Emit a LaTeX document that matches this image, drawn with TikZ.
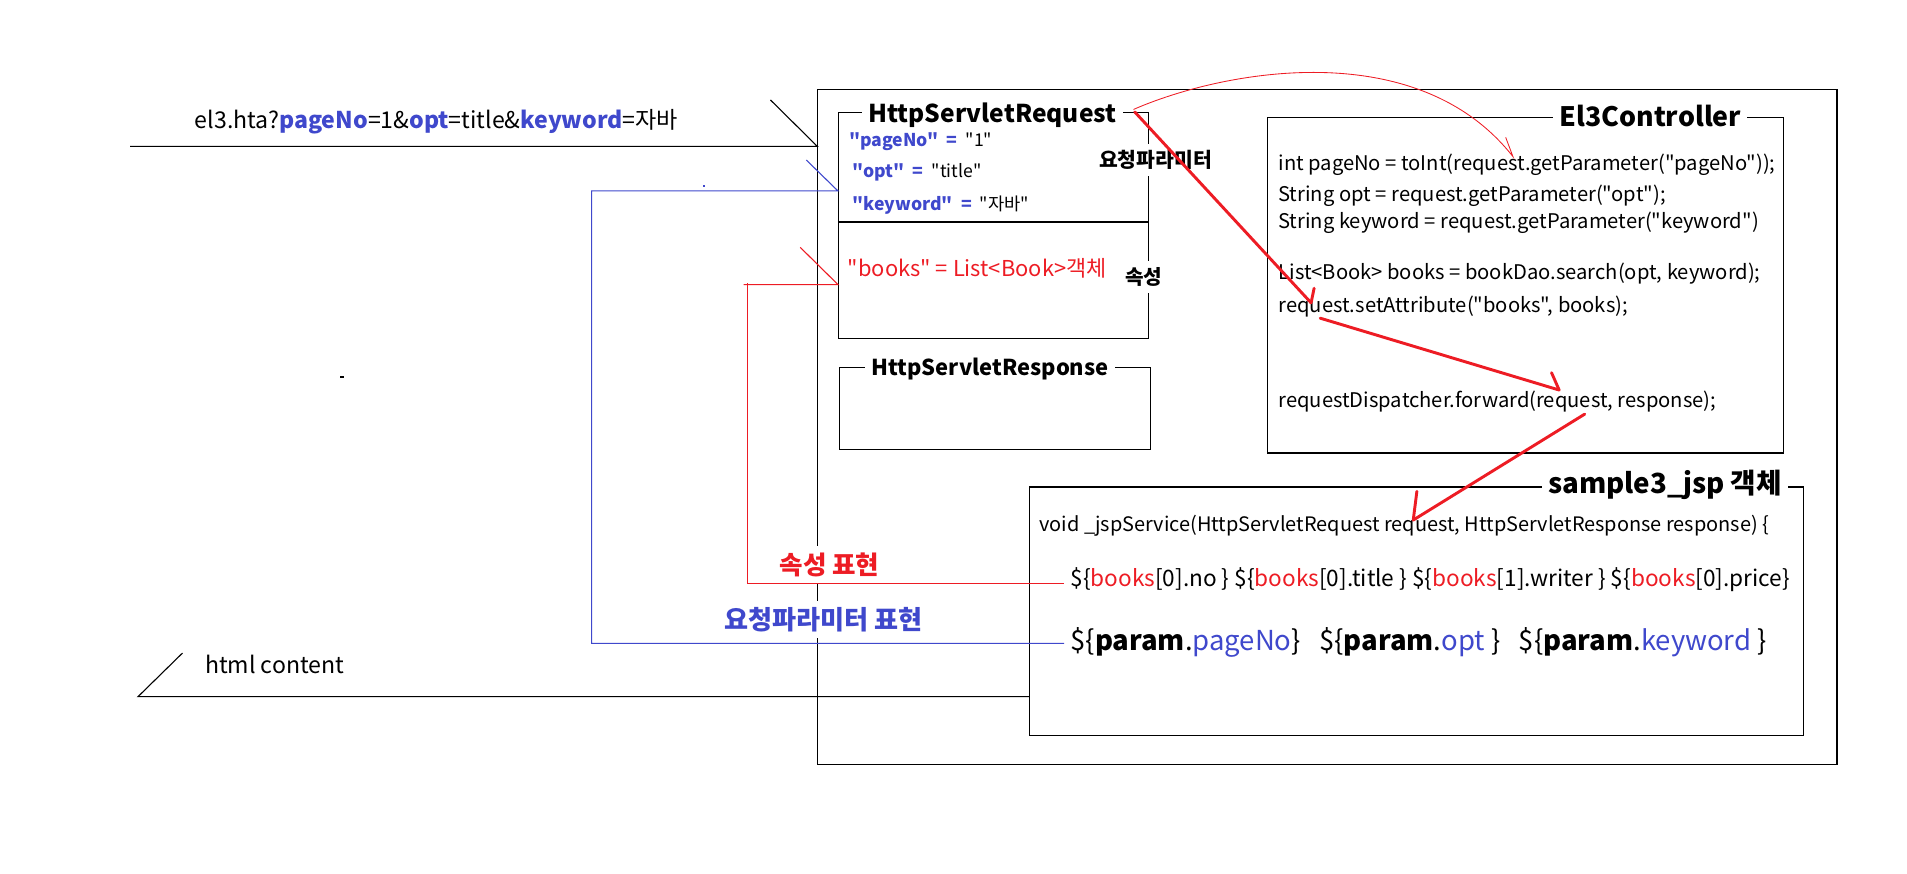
\documentclass[tikz,border=0pt]{standalone}
\usepackage{fontspec}
\setmainfont{Noto Sans CJK KR}[Ligatures=TeXOff]
\definecolor{pblue}{HTML}{3F48CC}
\definecolor{pred}{HTML}{ED1C24}
\newcommand\fsz[1]{\fontsize{#1}{#1}\selectfont}

\begin{document}
\begin{tikzpicture}[x=1pt,y=-1pt,
  frame/.style={draw=black, line width=0.9pt, inner sep=0pt, anchor=north west},
  rule/.style={draw=black, line width=0.9pt},
  bline/.style={draw=pblue, line width=0.9pt},
  rline/.style={draw=pred, line width=0.9pt},
  thinred/.style={draw=pred, line width=0.7pt},
  redarrow/.style={draw=pred, line width=2.4pt, line cap=round, line join=round},
  boxtitle/.style={fill=white, inner xsep=5pt, inner ysep=3pt, anchor=base, font=\bfseries},
  tag/.style={fill=white, inner xsep=1pt, inner ysep=5pt, anchor=base, font=\bfseries},
  txt/.style={anchor=base west, inner sep=0pt}]
\useasboundingbox (0,0) rectangle (1568,718);

% containers
\node[frame, minimum width=838pt, minimum height=555pt] (outer) at (672,73) {};
\node[frame, minimum width=254.6pt, minimum height=186.2pt] (req) at (689,91.8) {};
\node[frame, minimum width=255.6pt, minimum height=67pt] (resp) at (690,302) {};
\node[frame, minimum width=424pt, minimum height=276pt] (ctrl) at (1042,96) {};
\node[frame, minimum width=636.3pt, minimum height=204.4pt] (jsp) at (846,400) {};
\coordinate (divl) at (689,182.5);
\coordinate (divr) at (943.6,182.5);
\draw[rule] (divl) -- (divr);

% box titles
\node[boxtitle] (reqt) at (816,101) {\fsz{20.2}HttpServletRequest};
\node[boxtitle] (respt) at (814,309) {\fsz{18}HttpServletResponse};
\node[boxtitle] (ctrlt) at (1357,104) {\fsz{22}El3Controller};
\node[boxtitle] (jspt) at (1369,405.7) {\fsz{22.8}sample3\_jsp 객체};

% side tags on the request box
\node[tag] (ptag) at (950,138) {\fsz{16.8}요청파라미터};
\node[tag] (atag) at (940.5,234) {\fsz{16.6}속성};

% request contents
\node[txt] (pg) at (698,120.6) {\fsz{14.5}\textcolor{pblue}{\bfseries "pageNo"\ \ =\ \ }"1"};
\node[txt] (op) at (701,146) {\fsz{14.5}\textcolor{pblue}{\bfseries "opt"\ \ =\ \ }"title"};
\node[txt] (kw) at (701,172.7) {\fsz{14.5}\textcolor{pblue}{\bfseries "keyword"\ \ =\ \ }"자바"};
\node[txt, text=pred] (bk) at (697,227.5) {\fsz{18}"books"\ = List<Book>객체};

% controller code
\node[txt] (c1) at (1051,140) {\fsz{16.6}int pageNo = toInt(request.getParameter("pageNo"));};
\node[txt] (c2) at (1051,165.8) {\fsz{16.6}String opt = request.getParameter("opt");};
\node[txt] (c3) at (1051,187.7) {\fsz{16.6}String keyword = request.getParameter("keyword")};
\node[txt] (c4) at (1051,230) {\fsz{16.6}List<Book> books = bookDao.search(opt, keyword);};
\node[txt] (c5) at (1051,256.8) {\fsz{16.6}request.setAttribute("books", books);};
\node[txt] (c6) at (1051,335) {\fsz{16.6}requestDispatcher.forward(request, response);};

% jsp contents
\node[txt] (j1) at (854.5,437) {\fsz{16.4}void \_jspService(HttpServletRequest request, HttpServletResponse response) \{};
\node[txt] (j2) at (880,482) {\fsz{18.6}\$\{\textcolor{pred}{books}[0].no \} \$\{\textcolor{pred}{books}[0].title \} \$\{\textcolor{pred}{books}[1].writer \} \$\{\textcolor{pred}{books}[0].price\}};
\node[txt] (j3) at (880,534.5) {\fsz{22.6}\$\{\textbf{param}.\textcolor{pblue}{pageNo}\}\ \ \ \$\{\textbf{param}.\textcolor{pblue}{opt} \}\ \ \ \$\{\textbf{param}.\textcolor{pblue}{keyword} \}};

% outside texts
\node[txt] (url) at (160,105.5) {\fsz{19}el3.hta?\textcolor{pblue}{\bfseries pageNo}=1\&\textcolor{pblue}{\bfseries opt}=title\&\textcolor{pblue}{\bfseries keyword}=자바};
\node[txt] (html) at (168.4,553.6) {\fsz{19}html content};
\node[tag, text=pred] (attrx) at (682,472) {\fsz{21}속성 표현};
\node[tag, text=pblue] (parx) at (677,517.5) {\fsz{21.5}요청파라미터 표현};

% incoming request line and outgoing html line
\coordinate (inl) at (107,120.3);
\coordinate (inr) at (672,120.3);
\coordinate (inq) at (633.5,82.2);
\draw[rule] (inl) -- (inr) -- (inq);
\coordinate (outl) at (113.5,572.8);
\coordinate (outr) at (846,572.8);
\coordinate (outq) at (150,537);
\draw[rule] (outr) -- (outl) -- (outq);

% parameter expression link
\coordinate (bq) at (663,131.6);
\coordinate (bp) at (689,157);
\coordinate (bl) at (486.5,157);
\coordinate (bd) at (486.5,529);
\coordinate (be) at (875,529);
\draw[bline] (bq) -- (bp) -- (bl) -- (bd) -- (be);
\fill[pblue] (578.4,151.8) rectangle (579.8,154);

% attribute expression link
\coordinate (rq) at (658,203.4);
\coordinate (rp) at (689,234);
\coordinate (rl) at (611.5,234);
\coordinate (rt) at (614.7,232.7);
\coordinate (rd) at (614.7,479.6);
\coordinate (re) at (875,479.6);
\draw[rline] (rq) -- (rp) -- (rl);
\draw[rline] (rt) -- (rd) -- (re);

\fill[black] (279.5,309.5) rectangle (282.5,310.8);

% request flow arrows
\coordinate (a0) at (932,90);
\coordinate (a1) at (1244,128.8);
\coordinate (a1b) at (1238,112.9);
\draw[thinred] (a0) .. controls (1005,58) and (1165,28) .. (a1) -- (a1b);
\coordinate (s0) at (933,92);
\coordinate (s1) at (1078,249);
\coordinate (s1b) at (1080.5,237);
\draw[redarrow] (s0) -- (s1) -- (s1b);
\coordinate (f0) at (1085.5,261.6);
\coordinate (f1) at (1282,320.7);
\coordinate (f1b) at (1275.7,306.4);
\draw[redarrow] (f0) -- (f1) -- (f1b);
\coordinate (g0) at (1303,340.5);
\coordinate (g1) at (1162,427.6);
\coordinate (g1b) at (1165,404);
\draw[redarrow] (g0) -- (g1) -- (g1b);
\end{tikzpicture}
\end{document}
